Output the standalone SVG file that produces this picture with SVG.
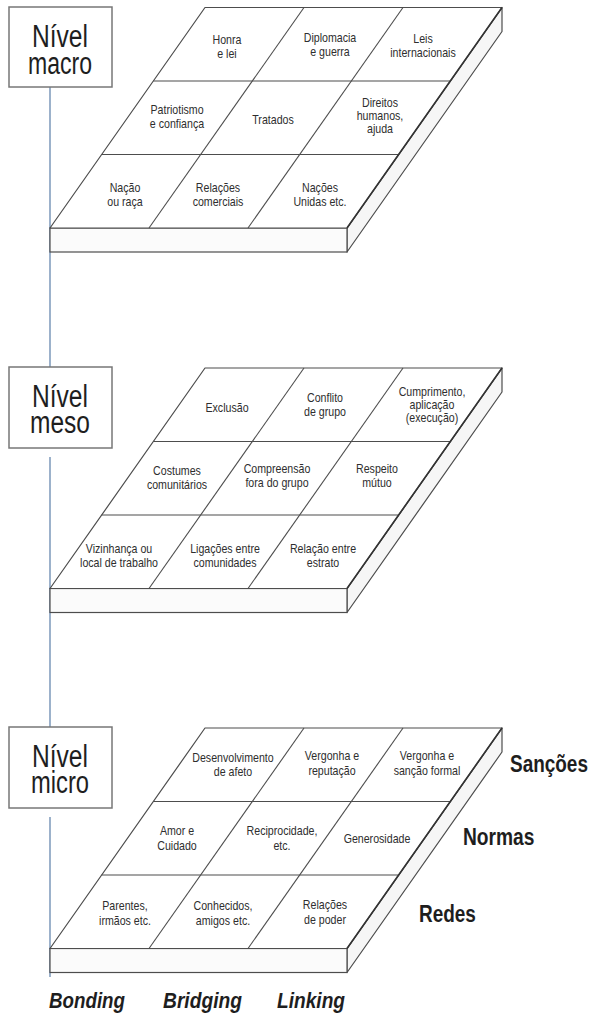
<svg xmlns="http://www.w3.org/2000/svg" xmlns:xlink="http://www.w3.org/1999/xlink" width="592" height="1019" viewBox="0 0 592 1019">
<style>
  .face { fill: #ffffff; stroke: #4d4d4d; stroke-width: 1.2; stroke-linejoin: round; }
  .front { fill: #fbfbfb; stroke: #4d4d4d; stroke-width: 1.2; }
  .side { fill: #f6f6f6; stroke: #4d4d4d; stroke-width: 1.2; stroke-linejoin: round; }
  .grid { stroke: #4d4d4d; stroke-width: 1.1; fill: none; }
  .edge { stroke: #333333; stroke-width: 1.6; fill: none; }
  .box { fill: #ffffff; stroke: #777777; stroke-width: 1.5; }
  .conn { stroke: #5a7ea8; stroke-width: 1.2; fill: none; }
  .lvl { font-family: "Liberation Sans", Arial, sans-serif; font-size: 31px; fill: #1e1e1e; text-anchor: middle; }
  .cell { font-family: "Liberation Sans", Arial, sans-serif; font-size: 12.5px; fill: #2e2e2e; text-anchor: middle; }
  .dim { font-family: "Liberation Sans", Arial, sans-serif; font-size: 24px; font-weight: bold; fill: #1e1e1e; }
  .cap { font-family: "Liberation Sans", Arial, sans-serif; font-size: 22px; font-weight: bold; font-style: italic; fill: #1e1e1e; }
</style>
<defs>
  <g id="slab">
    <polygon class="side" points="502,0 502,24 347,244.5 347,220.5"/>
    <rect class="front" x="50" y="220.5" width="297" height="24"/>
    <polygon class="face" points="205,0 502,0 347,220.5 50,220.5"/>
    <line class="grid" x1="153.33" y1="73.5" x2="450.33" y2="73.5"/>
    <line class="grid" x1="101.67" y1="147" x2="398.67" y2="147"/>
    <line class="grid" x1="304" y1="0" x2="149" y2="220.5"/>
    <line class="grid" x1="403" y1="0" x2="248" y2="220.5"/>
    <line class="edge" x1="502" y1="0" x2="347" y2="220.5"/>
  </g>
</defs>

<g id="connectors">
  <line class="conn" x1="50" y1="87" x2="50" y2="367"/>
  <line class="conn" x1="50" y1="457" x2="50" y2="727"/>
  <line class="conn" x1="50" y1="817" x2="50" y2="977"/>
</g>

<!-- MACRO -->
<g id="panel-macro">
  <use xlink:href="#slab" href="#slab" x="0" y="7.5"/>
  <text class="cell" transform="translate(227 0) scale(0.85 1)"><tspan x="0" y="44">Honra</tspan><tspan x="0" y="58">e lei</tspan></text>
  <text class="cell" transform="translate(330 0) scale(0.85 1)"><tspan x="0" y="42">Diplomacia</tspan><tspan x="0" y="56">e guerra</tspan></text>
  <text class="cell" transform="translate(423 0) scale(0.85 1)"><tspan x="0" y="43">Leis</tspan><tspan x="0" y="57">internacionais</tspan></text>
  <text class="cell" transform="translate(177 0) scale(0.85 1)"><tspan x="0" y="114">Patriotismo</tspan><tspan x="0" y="128">e confiança</tspan></text>
  <text class="cell" transform="translate(273 0) scale(0.85 1)"><tspan x="0" y="124">Tratados</tspan></text>
  <text class="cell" transform="translate(380 0) scale(0.85 1)"><tspan x="0" y="107">Direitos</tspan><tspan x="0" y="120">humanos,</tspan><tspan x="0" y="133">ajuda</tspan></text>
  <text class="cell" transform="translate(125 0) scale(0.85 1)"><tspan x="0" y="192">Nação</tspan><tspan x="0" y="206">ou raça</tspan></text>
  <text class="cell" transform="translate(218 0) scale(0.85 1)"><tspan x="0" y="192">Relações</tspan><tspan x="0" y="206">comerciais</tspan></text>
  <text class="cell" transform="translate(320 0) scale(0.85 1)"><tspan x="0" y="192">Nações</tspan><tspan x="0" y="206">Unidas etc.</tspan></text>
</g>
<g id="level-macro">
  <rect class="box" x="9" y="7" width="103" height="80"/>
  <text class="lvl"><tspan x="60" y="47" textLength="56" lengthAdjust="spacingAndGlyphs">Nível</tspan><tspan x="60" y="74" textLength="64" lengthAdjust="spacingAndGlyphs">macro</tspan></text>
</g>

<!-- MESO -->
<g id="panel-meso">
  <use xlink:href="#slab" href="#slab" x="0" y="368"/>
  <text class="cell" transform="translate(227 0) scale(0.85 1)"><tspan x="0" y="412">Exclusão</tspan></text>
  <text class="cell" transform="translate(325 0) scale(0.85 1)"><tspan x="0" y="402">Conflito</tspan><tspan x="0" y="416">de grupo</tspan></text>
  <text class="cell" transform="translate(432 0) scale(0.85 1)"><tspan x="0" y="396">Cumprimento,</tspan><tspan x="0" y="409">aplicação</tspan><tspan x="0" y="422">(execução)</tspan></text>
  <text class="cell" transform="translate(177 0) scale(0.85 1)"><tspan x="0" y="475">Costumes</tspan><tspan x="0" y="489">comunitários</tspan></text>
  <text class="cell" transform="translate(277 0) scale(0.85 1)"><tspan x="0" y="473">Compreensão</tspan><tspan x="0" y="487">fora do grupo</tspan></text>
  <text class="cell" transform="translate(377 0) scale(0.85 1)"><tspan x="0" y="473">Respeito</tspan><tspan x="0" y="487">mútuo</tspan></text>
  <text class="cell" transform="translate(119 0) scale(0.85 1)"><tspan x="0" y="553">Vizinhança ou</tspan><tspan x="0" y="567">local de trabalho</tspan></text>
  <text class="cell" transform="translate(225 0) scale(0.85 1)"><tspan x="0" y="553">Ligações entre</tspan><tspan x="0" y="567">comunidades</tspan></text>
  <text class="cell" transform="translate(323 0) scale(0.85 1)"><tspan x="0" y="553">Relação entre</tspan><tspan x="0" y="567">estrato</tspan></text>
</g>
<g id="level-meso">
  <rect class="box" x="9" y="367" width="103" height="81"/>
  <text class="lvl"><tspan x="60" y="407" textLength="56" lengthAdjust="spacingAndGlyphs">Nível</tspan><tspan x="60" y="433" textLength="60" lengthAdjust="spacingAndGlyphs">meso</tspan></text>
</g>

<!-- MICRO -->
<g id="panel-micro">
  <use xlink:href="#slab" href="#slab" x="0" y="728"/>
  <text class="cell" transform="translate(233 0) scale(0.85 1)"><tspan x="0" y="762">Desenvolvimento</tspan><tspan x="0" y="776">de afeto</tspan></text>
  <text class="cell" transform="translate(332 0) scale(0.85 1)"><tspan x="0" y="760">Vergonha e</tspan><tspan x="0" y="775">reputação</tspan></text>
  <text class="cell" transform="translate(427 0) scale(0.85 1)"><tspan x="0" y="760">Vergonha e</tspan><tspan x="0" y="775">sanção formal</tspan></text>
  <text class="cell" transform="translate(177 0) scale(0.85 1)"><tspan x="0" y="835">Amor e</tspan><tspan x="0" y="850">Cuidado</tspan></text>
  <text class="cell" transform="translate(282 0) scale(0.85 1)"><tspan x="0" y="835">Reciprocidade,</tspan><tspan x="0" y="850">etc.</tspan></text>
  <text class="cell" transform="translate(377 0) scale(0.85 1)"><tspan x="0" y="843">Generosidade</tspan></text>
  <text class="cell" transform="translate(125 0) scale(0.85 1)"><tspan x="0" y="910">Parentes,</tspan><tspan x="0" y="925">irmãos etc.</tspan></text>
  <text class="cell" transform="translate(223 0) scale(0.85 1)"><tspan x="0" y="910">Conhecidos,</tspan><tspan x="0" y="925">amigos etc.</tspan></text>
  <text class="cell" transform="translate(325 0) scale(0.85 1)"><tspan x="0" y="909">Relações</tspan><tspan x="0" y="924">de poder</tspan></text>
</g>
<g id="level-micro">
  <rect class="box" x="9" y="727" width="103" height="81"/>
  <text class="lvl"><tspan x="60" y="767" textLength="56" lengthAdjust="spacingAndGlyphs">Nível</tspan><tspan x="60" y="793" textLength="58" lengthAdjust="spacingAndGlyphs">micro</tspan></text>
</g>

<!-- Dimension labels -->
<g id="label-sancoes"><text class="dim" transform="translate(510 772) scale(0.79 1)">Sanções</text></g>
<g id="label-normas"><text class="dim" transform="translate(463 845) scale(0.8 1)">Normas</text></g>
<g id="label-redes"><text class="dim" transform="translate(419 922) scale(0.79 1)">Redes</text></g>
<g id="label-bonding"><text class="cap" x="49" y="1008" textLength="76" lengthAdjust="spacingAndGlyphs">Bonding</text></g>
<g id="label-bridging"><text class="cap" x="163" y="1008" textLength="79" lengthAdjust="spacingAndGlyphs">Bridging</text></g>
<g id="label-linking"><text class="cap" x="277" y="1008" textLength="68" lengthAdjust="spacingAndGlyphs">Linking</text></g>
</svg>
